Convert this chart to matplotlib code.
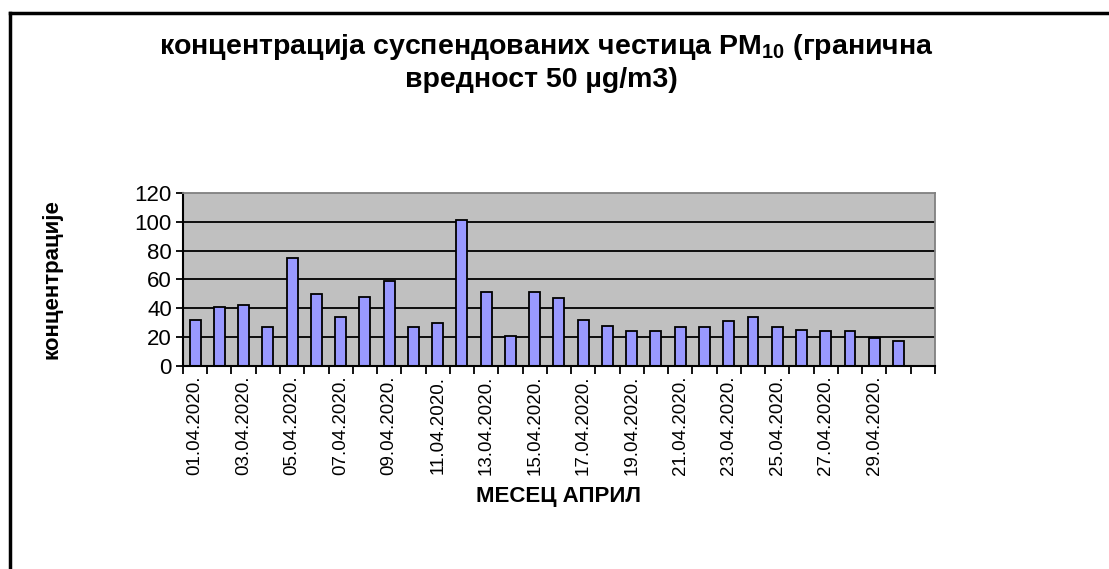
import matplotlib
matplotlib.use("Agg")
import matplotlib.pyplot as plt
from matplotlib.lines import Line2D
import numpy as np

plt.rcParams['font.family'] = ['Liberation Sans', 'DejaVu Sans']
plt.rcParams['mathtext.fontset'] = 'custom'
plt.rcParams['mathtext.rm'] = 'Liberation Sans'
plt.rcParams['mathtext.bf'] = 'Liberation Sans:bold'

# podaci za april 2020 (zadnje mesto na osi je prazno)
dani = ["%02d.04.2020." % d for d in range(1, 31)]
pm10 = [32, 41, 42, 27, 75, 50, 34, 48, 59, 27, 30, 101, 51, 21, 51,
        47, 32, 28, 24, 24, 27, 27, 31, 34, 27, 25, 24, 24, 19, 17]
n_mesta = 31
y_ticks = [0, 20, 40, 60, 80, 100, 120]

fig = plt.figure(figsize=(11.09, 5.69), dpi=100)
ax = fig.add_axes([0.165, 0.357, 0.678, 0.304])

x = np.arange(len(pm10))
ax.set_facecolor('#C0C0C0')
for v in y_ticks[1:-1]:
    ax.axhline(v, color='black', lw=1.3, zorder=1)
ax.bar(x, pm10, width=0.45, color='#9999FF', edgecolor='black', lw=1.3, zorder=2)

ax.set_xlim(-0.5, n_mesta - 0.5)
ax.set_ylim(0, 120)
ax.set_yticks(y_ticks)
ax.tick_params(axis='y', labelsize=16, direction='out', length=5, width=1.3, pad=3)

# crtice izmedju kategorija, natpisi na svakom drugom danu
ax.set_xticks(np.arange(-0.5, n_mesta, 1.0))
ax.set_xticklabels([])
ax.tick_params(axis='x', which='major', direction='out', length=6, width=1.3)
ax.set_xticks(x[::2], minor=True)
ax.set_xticklabels(dani[::2], minor=True, rotation=90, fontsize=13.5)
ax.tick_params(axis='x', which='minor', length=0, pad=7)

for s in ['top', 'right']:
    ax.spines[s].set_color('#808080')
    ax.spines[s].set_linewidth(1.3)
for s in ['left', 'bottom']:
    ax.spines[s].set_color('black')
    ax.spines[s].set_linewidth(1.5)

ax.set_ylabel("концентрације", fontsize=16, fontweight='bold', labelpad=52)
ax.set_xlabel("МЕСЕЦ АПРИЛ", fontsize=16, fontweight='bold', labelpad=8)

fig.text(0.493, 0.917, r"концентрација суспендованих честица PM$_{\mathbf{10}}$ (гранична",
         ha='center', va='center', fontsize=20.5, fontweight='bold')
fig.text(0.488, 0.859, "вредност 50 µg/m3)",
         ha='center', va='center', fontsize=20.5, fontweight='bold')

# okvir grafikona
fig.add_artist(Line2D([0.009, 1.0], [0.977, 0.977], color='black', lw=2.5))
fig.add_artist(Line2D([0.009, 0.009], [0.0, 0.977], color='black', lw=2.5))

fig.savefig("out.png", dpi=100)
